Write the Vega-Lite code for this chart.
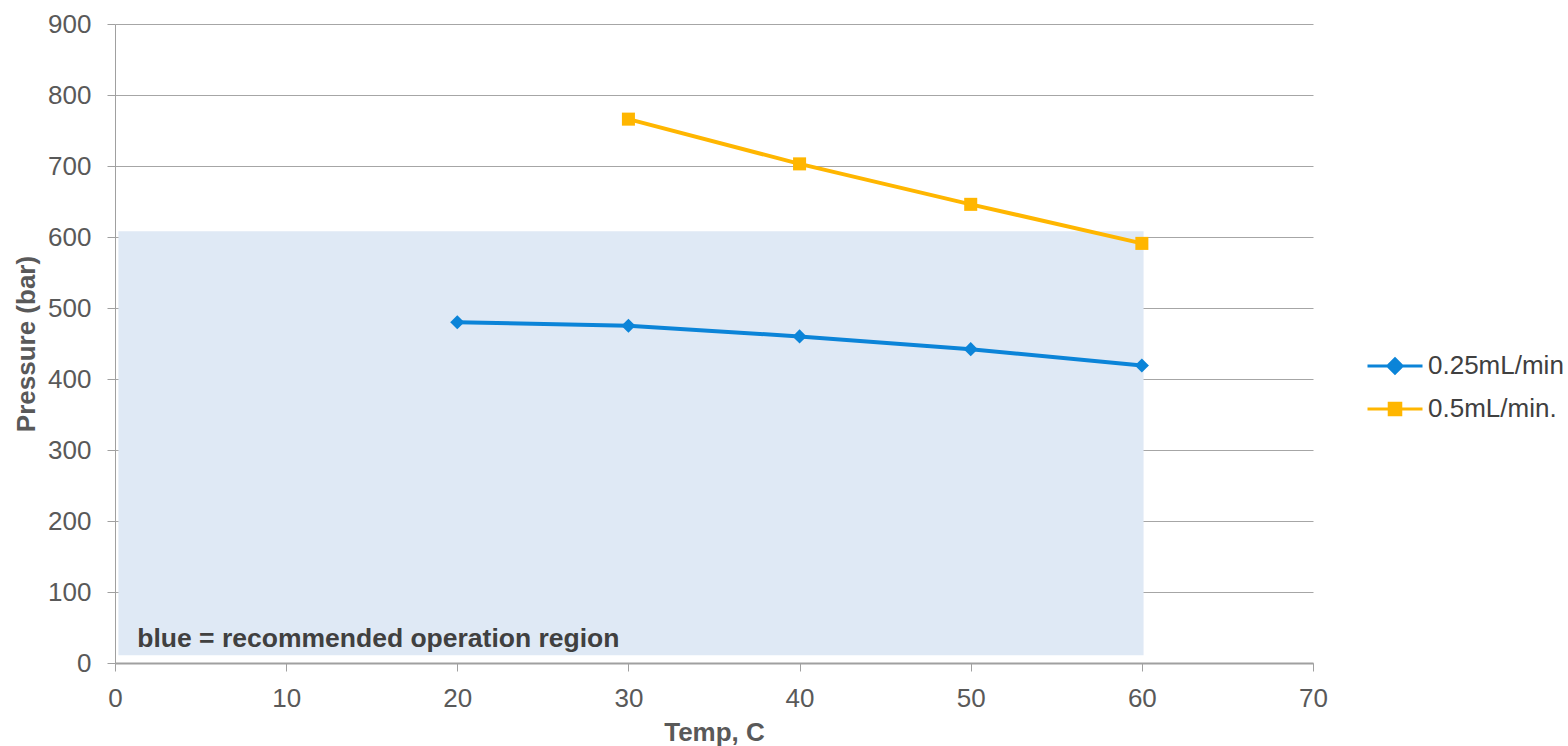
{
  "$schema": "https://vega.github.io/schema/vega-lite/v6.json",
  "width": 1198,
  "height": 639,
  "autosize": "none",
  "padding": {"left": 115, "top": 24, "right": 255, "bottom": 83},
  "background": "white",
  "config": {
    "view": {"stroke": null},
    "font": "Liberation Sans",
    "axis": {
      "labelFont": "Liberation Sans",
      "titleFont": "Liberation Sans",
      "labelFontSize": 26,
      "labelColor": "#595959",
      "titleFontSize": 26,
      "titleFontWeight": "bold",
      "titleColor": "#595959",
      "domainColor": "#a0a0a0",
      "tickColor": "#a0a0a0",
      "gridColor": "#a6a6a6",
      "tickSize": 8,
      "labelFlush": false,
      "labelOverlap": false
    }
  },
  "datasets": {
    "series": [
      {"temp": 20, "pressure": 480, "flow": "0.25mL/min"},
      {"temp": 30, "pressure": 475, "flow": "0.25mL/min"},
      {"temp": 40, "pressure": 460, "flow": "0.25mL/min"},
      {"temp": 50, "pressure": 442, "flow": "0.25mL/min"},
      {"temp": 60, "pressure": 419, "flow": "0.25mL/min"},
      {"temp": 30, "pressure": 766, "flow": "0.5mL/min."},
      {"temp": 40, "pressure": 703, "flow": "0.5mL/min."},
      {"temp": 50, "pressure": 646, "flow": "0.5mL/min."},
      {"temp": 60, "pressure": 591, "flow": "0.5mL/min."}
    ],
    "region": [{"x0": 0.2, "x1": 60.1, "y0": 11, "y1": 608}],
    "note": [{"x": 1.3, "y": 34, "label": "blue = recommended operation region"}]
  },
  "layer": [
    {
      "data": {"name": "region"},
      "mark": {"type": "rect", "color": "#dfe9f5"},
      "encoding": {
        "x": {"field": "x0", "type": "quantitative", "scale": {"domain": [0, 70], "nice": false},
          "axis": {"title": "Temp, C", "values": [0, 10, 20, 30, 40, 50, 60, 70], "grid": false, "domainWidth": 2, "labelPadding": 14, "titlePadding": 8}},
        "x2": {"field": "x1"},
        "y": {"field": "y0", "type": "quantitative", "scale": {"domain": [0, 900], "nice": false},
          "axis": {"title": "Pressure (bar)", "values": [0, 100, 200, 300, 400, 500, 600, 700, 800, 900], "grid": true, "labelPadding": 16, "titlePadding": 8}},
        "y2": {"field": "y1"}
      }
    },
    {
      "data": {"name": "note"},
      "mark": {"type": "text", "align": "left", "baseline": "middle", "fontSize": 26.5, "fontWeight": "bold", "color": "#404040", "font": "Liberation Sans"},
      "encoding": {
        "x": {"field": "x", "type": "quantitative"},
        "y": {"field": "y", "type": "quantitative"},
        "text": {"field": "label"}
      }
    },
    {
      "data": {"name": "series"},
      "mark": {"type": "line", "strokeWidth": 4},
      "encoding": {
        "x": {"field": "temp", "type": "quantitative"},
        "y": {"field": "pressure", "type": "quantitative"},
        "color": {"field": "flow", "type": "nominal",
          "scale": {"domain": ["0.25mL/min", "0.5mL/min."], "range": ["#0B84D8", "#FFB600"]},
          "legend": {
            "title": null,
            "orient": "none",
            "legendX": 1251,
            "legendY": 313,
            "labelFontSize": 26,
            "labelColor": "#404040",
            "labelFont": "Liberation Sans",
            "symbolSize": 3025,
            "symbolStrokeWidth": 3,
            "rowPadding": -2,
            "labelOffset": 4,
            "encode": {
              "symbols": {
                "update": {
                  "shape": {"signal": "datum.value === '0.25mL/min' ? 'M-1,0H1M0,-0.26L0.26,0L0,0.26L-0.26,0Z' : 'M-1,0H1M-0.21,-0.21H0.21V0.21H-0.21Z'"},
                  "fill": {"signal": "datum.value === '0.25mL/min' ? '#0B84D8' : '#FFB600'"},
                  "stroke": {"signal": "datum.value === '0.25mL/min' ? '#0B84D8' : '#FFB600'"},
                  "opacity": {"value": 1}
                }
              }
            }
          }
        }
      }
    },
    {
      "data": {"name": "series"},
      "mark": {"type": "point", "filled": true, "opacity": 1},
      "encoding": {
        "x": {"field": "temp", "type": "quantitative"},
        "y": {"field": "pressure", "type": "quantitative"},
        "color": {"field": "flow", "type": "nominal"},
        "shape": {"condition": {"test": "datum.flow === '0.5mL/min.'", "value": "square"}, "value": "diamond"},
        "size": {"condition": {"test": "datum.flow === '0.5mL/min.'", "value": 170}, "value": 200}
      }
    }
  ]
}
